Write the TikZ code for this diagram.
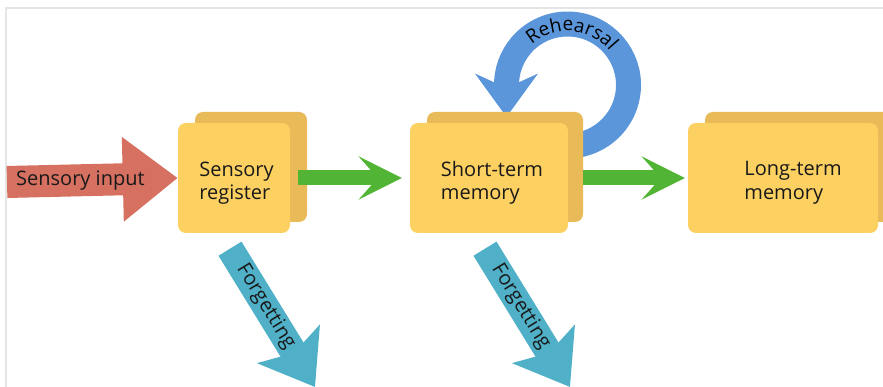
\documentclass[tikz,border=0pt]{standalone}
\usepackage{fontspec}
\setmainfont{Open Sans}
\usepackage{xcolor}
\usetikzlibrary{arrows.meta,decorations.text}

\definecolor{boxfront}{RGB}{252,209,98}
\definecolor{boxback}{RGB}{232,186,88}
\definecolor{inputred}{RGB}{214,112,96}
\definecolor{flowgreen}{RGB}{82,180,52}
\definecolor{loopblue}{RGB}{91,150,219}
\definecolor{forgetteal}{RGB}{79,176,199}
\definecolor{inktext}{RGB}{25,25,25}

\newcommand\rehfont{\fontsize{19}{21}\selectfont}

\begin{document}
\begin{tikzpicture}[x=1pt, y=1pt,
    store/.style={rectangle, rounded corners=8pt, fill=boxfront, minimum height=110pt, inner sep=0pt},
    backbox/.style={rectangle, rounded corners=8pt, fill=boxback, minimum height=110pt, inner sep=0pt},
    storetext/.style={align=left, text=inktext, font=\fontsize{20}{23.5}\selectfont},
    flow/.style={flowgreen, line width=15pt, -{Stealth[length=43pt, width=43pt, inset=19pt]}},
    forget/.style={forgetteal, line width=27pt, -{Stealth[length=50pt, width=72pt, inset=10pt]}},
    rehearse/.style={loopblue, line width=25pt, -{Stealth[length=43pt, width=62pt, inset=14pt]}},
    sensory/.style={inputred, line width=32pt, -{Triangle[length=55pt, width=81pt]}},
    arrowtext/.style={text=inktext, font=\fontsize{20}{24}\selectfont, inner sep=0pt}
]
    \useasboundingbox (0,0) rectangle (883,387);
    \clip (0,0) rectangle (883,387);

    % frame
    \draw[gray!20, line width=1.5pt] (6,0) -- (6,379) -- (883,379);

    % rehearsal loop, behind the short-term store
    \coordinate (loopc) at (567.5,302);
    \draw[rehearse] (loopc) ++(-100:61) arc[start angle=-100, end angle=180, radius=61] -- ++(0,-32);
    \path[decorate, decoration={text along path, text={|\rehfont|Rehearsal}, text align=center}]
        (loopc) ++(150:54) arc[start angle=150, end angle=20, radius=54];

    % stores
    \node[backbox, minimum width=112pt] (srback) at (251,220) {};
    \node[store, minimum width=112pt] (sr) at (234,209) {};
    \node[backbox, minimum width=156pt] (stmback) at (505,220) {};
    \node[store, minimum width=158pt] (stm) at (489,209) {};
    \node[backbox, minimum width=190pt] (ltmback) at (800,220) {};
    \node[store, minimum width=190pt] (ltm) at (783,209) {};

    \node[storetext] (srtext) at (236.5,204) {Sensory\\register};
    \node[storetext] (stmtext) at (492,204) {Short-term\\memory};
    \node[storetext] (ltmtext) at (793,204) {Long-term\\memory};

    % input
    \coordinate (input) at (7,205);
    \draw[sensory] (input) -- (sr.west) node[arrowtext, pos=0.43] (inputlabel) {Sensory input};

    % transfer
    \draw[flow] ([xshift=8pt]sr.east) -- ([xshift=-8pt]stm.west);
    \draw[flow] (stmback.east |- stm.east) -- ([xshift=-3pt]ltm.west);

    % forgetting
    \coordinate (lost1) at (315,0);
    \coordinate (lost2) at (570,0);
    \draw[forget] ([shift={(-4,-15.5)}]sr.south) -- (lost1) node[arrowtext, sloped, pos=0.42] (forgetlabel1) {Forgetting};
    \draw[forget] ([shift={(-4,-15.5)}]stm.south) -- (lost2) node[arrowtext, sloped, pos=0.42] (forgetlabel2) {Forgetting};
\end{tikzpicture}
\end{document}
